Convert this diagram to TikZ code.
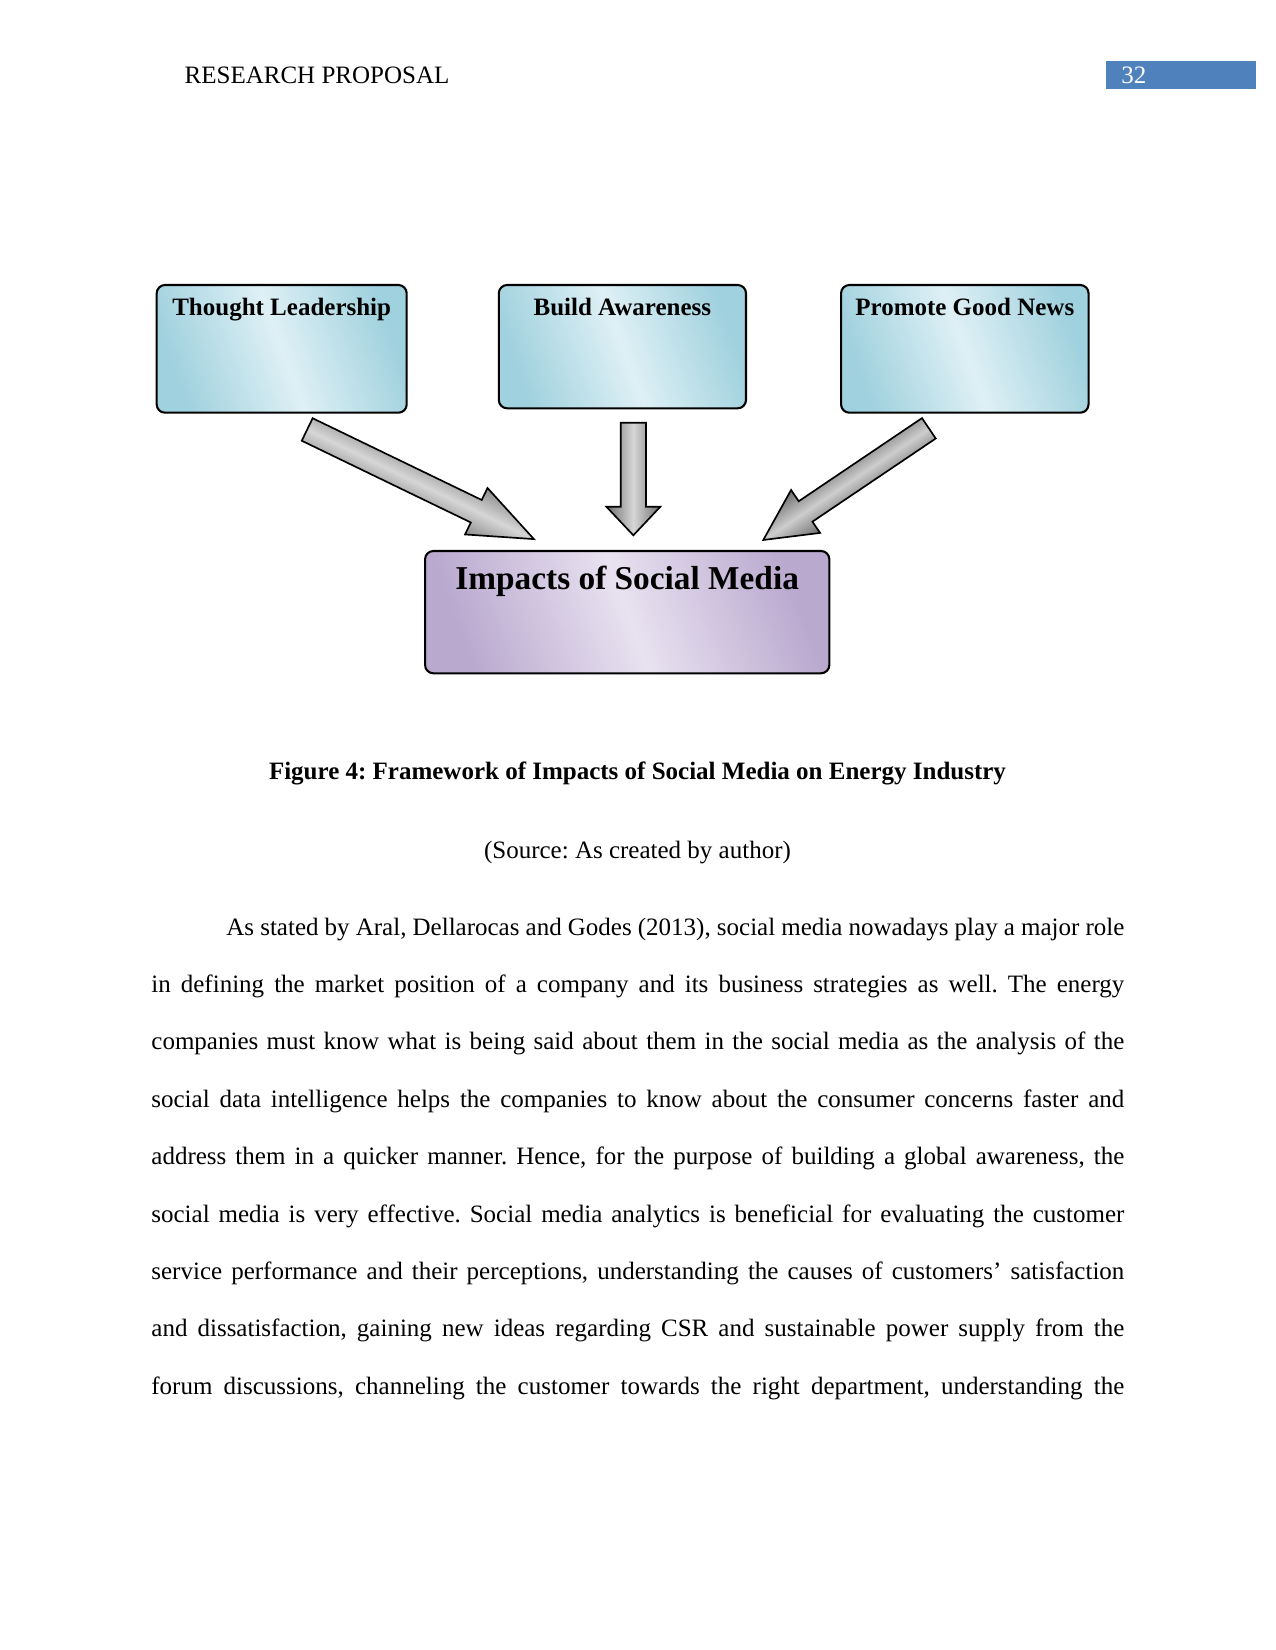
\documentclass[tikz,border=0pt]{standalone}
\usepackage{fontspec}
\setmainfont{Liberation Serif}
\newlength\px
\setlength\px{0.48pt}
\definecolor{cyanedge}{RGB}{160,209,222}
\definecolor{cyanmid}{RGB}{222,240,245}
\definecolor{lilacedge}{RGB}{186,169,207}
\definecolor{lilacmid}{RGB}{232,226,240}
\definecolor{arrowedgeA}{RGB}{140,140,140}
\definecolor{arrowmidA}{RGB}{214,214,214}
\definecolor{arrowedgeB}{RGB}{110,110,110}
\definecolor{arrowmidB}{RGB}{205,205,205}
\definecolor{pagenumblue}{RGB}{79,129,189}
\newcommand\blockarr[9]{%
  \begin{scope}[transform canvas={shift={(#1,#2)}, rotate=#3}]
    \draw[blockarrow, top color=#8, bottom color=#8, middle color=#9]
      (0,-#5) -- ({#4-#7},-#5) -- ({#4-#7},-#6) -- (#4,0) -- ({#4-#7},#6) -- ({#4-#7},#5) -- (0,#5) -- cycle;
  \end{scope}}
\tikzset{
  bluebox/.style={draw=black, line width=1pt, rounded corners=4pt, inner sep=0pt,
    left color=cyanedge, right color=cyanedge, middle color=cyanmid, shading angle=110},
  lilacbox/.style={draw=black, line width=1pt, rounded corners=4pt, inner sep=0pt,
    left color=lilacedge, right color=lilacedge, middle color=lilacmid, shading angle=110},
  boxlabel/.style={anchor=base, inner sep=0pt, font=\fontsize{12pt}{14pt}\selectfont\bfseries},
  biglabel/.style={anchor=base, inner sep=0pt, font=\fontsize{16pt}{19pt}\selectfont\bfseries},
  blockarrow/.style={draw=black, line width=0.8pt, line join=miter},
  plain/.style={inner sep=0pt, font=\fontsize{12pt}{14pt}\selectfont\frenchspacing},
  bodyline/.style={anchor=base west, inner sep=0pt, font=\fontsize{12pt}{14pt}\selectfont\frenchspacing},
}
\begin{document}
\begin{tikzpicture}[x=0.48pt, y=-0.48pt]
\useasboundingbox (0,0) rectangle (1275,1650);
% header
\node[plain, anchor=base west] (hdr) at (184.3,83.5) {RESEARCH PROPOSAL};
\node[fill=pagenumblue, inner sep=0pt, minimum width=150\px, minimum height=28\px] (pgbox) at (1180.7,75) {};
\node[plain, anchor=base west, text=white] (pgnum) at (1121,83.5) {32};
% top boxes
\node[bluebox, minimum width=250\px, minimum height=127.7\px] (lead) at (281.7,348.85) {};
\node[boxlabel] (leadtxt) at (281.7,315.7) {Thought Leadership};
\node[bluebox, minimum width=247.2\px, minimum height=123.3\px] (aware) at (622.4,346.65) {};
\node[boxlabel] (awaretxt) at (622.4,315.7) {Build Awareness};
\node[bluebox, minimum width=247.5\px, minimum height=127.7\px] (news) at (964.8,348.85) {};
\node[boxlabel] (newstxt) at (964.8,315.7) {Promote Good News};
% bottom box
\node[lilacbox, minimum width=404.3\px, minimum height=122.3\px] (impact) at (627.2,612.15) {};
\node[biglabel] (impacttxt) at (627.2,589) {Impacts of Social Media};
% block arrows
\blockarr{307.2}{429.5}{-25.8}{251.8}{12.5}{25.8}{64}{arrowedgeA}{arrowmidA}
\blockarr{633.35}{422.7}{-90}{112.6}{12.65}{27}{28.6}{arrowedgeB}{arrowmidA}
\blockarr{928.85}{428.3}{-146}{199.7}{12.3}{25.9}{51}{arrowedgeB}{arrowmidB}
% caption
\node[plain, anchor=base, font=\fontsize{12pt}{14pt}\selectfont\bfseries\frenchspacing] (cap) at (637.5,779.3) {Figure 4: Framework of Impacts of Social Media on Energy Industry};
\node[plain, anchor=base] (src) at (637.5,858) {(Source: As created by author)};
% body text
\node[bodyline] (l1) at (226,935) {\hbox to 431pt{As stated by Aral, Dellarocas and Godes (2013), social media nowadays play a major role}};
\node[bodyline] (l2) at (151,992.4) {\hbox to 467pt{in defining the market position of a company and its business strategies as well. The energy}};
\node[bodyline] (l3) at (151,1049.8) {\hbox to 467pt{companies must know what is being said about them in the social media as the analysis of the}};
\node[bodyline] (l4) at (151,1107.2) {\hbox to 467pt{social data intelligence helps the companies to know about the consumer concerns faster and}};
\node[bodyline] (l5) at (151,1164.6) {\hbox to 467pt{address them in a quicker manner. Hence, for the purpose of building a global awareness, the}};
\node[bodyline] (l6) at (151,1222) {\hbox to 467pt{social media is very effective. Social media analytics is beneficial for evaluating the customer}};
\node[bodyline] (l7) at (151,1279.4) {\hbox to 467pt{service performance and their perceptions, understanding the causes of customers’ satisfaction}};
\node[bodyline] (l8) at (151,1336.8) {\hbox to 467pt{and dissatisfaction, gaining new ideas regarding CSR and sustainable power supply from the}};
\node[bodyline] (l9) at (151,1394.2) {\hbox to 467pt{forum discussions, channeling the customer towards the right department, understanding the}};
\end{tikzpicture}
\end{document}
